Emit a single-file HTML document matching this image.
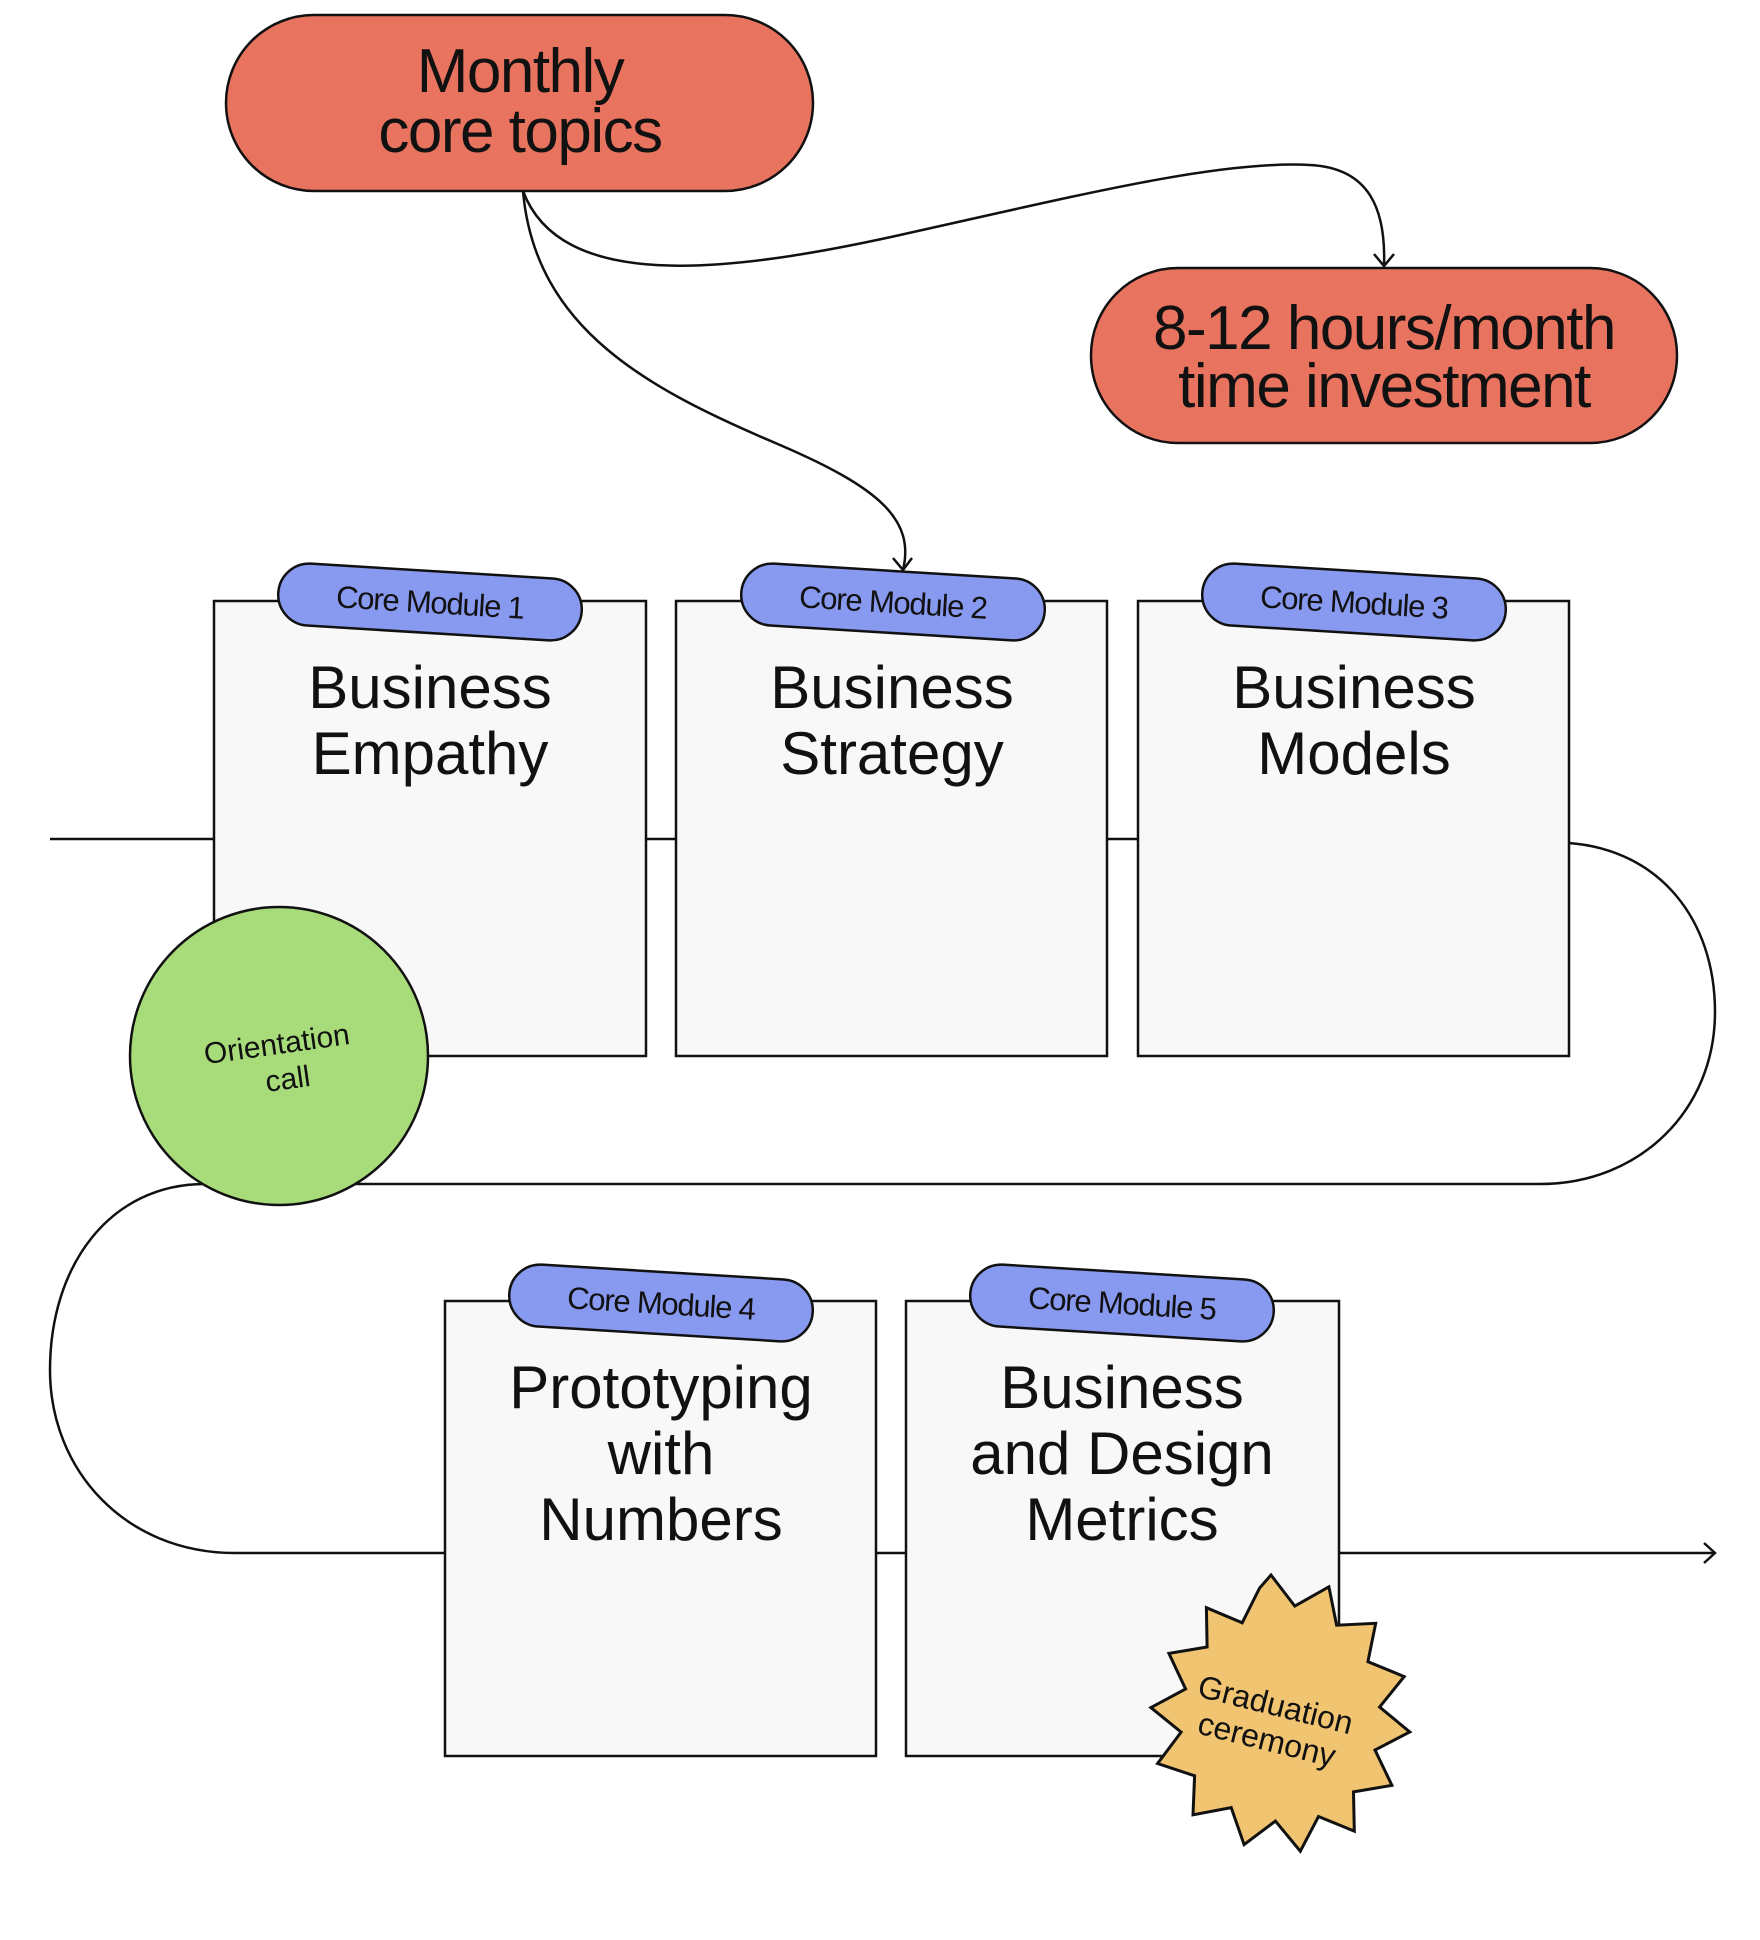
<!DOCTYPE html>
<html><head><meta charset="utf-8"><style>
html,body{margin:0;padding:0;background:#fff;}
svg{display:block;}
text{font-family:"Liberation Sans",sans-serif;fill:#111;}
</style></head><body>
<svg width="1760" height="1940" viewBox="0 0 1760 1940" xmlns="http://www.w3.org/2000/svg">
<g fill="none" stroke="#111" stroke-width="2.5">
<!-- main path -->
<path d="M50 839 H214 M646 839 H676 M1107 839 H1138"/>
<path d="M1569 843 C1660 850 1715 920 1715 1012 C1715 1110 1640 1184 1540 1184 H205 C110 1184 50 1265 50 1370 C50 1470 125 1553 235 1553 H445"/>
<path d="M876 1553 H906 M1339 1553 H1715"/>
<path d="M1704 1543 L1715 1553 L1704 1563"/>
<!-- curves from Monthly -->
<path d="M523 191 C535 330 650 390 780 445 C880 488 915 520 903 570"/>
<path d="M893 558 L903 570 L912 558"/>
<path d="M523 191 C560 290 720 275 900 235 C1080 195 1220 160 1310 165 C1370 168 1386 210 1384 266"/>
<path d="M1374 254 L1384 266 L1394 254"/>
</g>
<!-- pills -->
<rect x="226" y="15" width="587" height="176" rx="88" fill="#e8735f" stroke="#111" stroke-width="2.5"/>
<text x="520" y="92" font-size="62" text-anchor="middle" letter-spacing="-1.5">Monthly</text>
<text x="520" y="152" font-size="62" text-anchor="middle" letter-spacing="-1.5">core topics</text>
<rect x="1091" y="268" width="586" height="175" rx="87" fill="#e8735f" stroke="#111" stroke-width="2.5"/>
<text x="1384" y="349" font-size="62" text-anchor="middle" letter-spacing="-1.5">8-12 hours/month</text>
<text x="1384" y="407" font-size="62" text-anchor="middle" letter-spacing="-1.5">time investment</text>
<!-- boxes -->
<g fill="#f8f8f8" stroke="#111" stroke-width="2.5">
<rect x="214" y="601" width="432" height="455"/>
<rect x="676" y="601" width="431" height="455"/>
<rect x="1138" y="601" width="431" height="455"/>
<rect x="445" y="1301" width="431" height="455"/>
<rect x="906" y="1301" width="433" height="455"/>
</g>
<g font-size="60" text-anchor="middle">
<text x="430" y="708">Business</text><text x="430" y="774">Empathy</text>
<text x="892" y="708">Business</text><text x="892" y="774">Strategy</text>
<text x="1354" y="708">Business</text><text x="1354" y="774">Models</text>
<text x="661" y="1408">Prototyping</text><text x="661" y="1474">with</text><text x="661" y="1540">Numbers</text>
<text x="1122" y="1408">Business</text><text x="1122" y="1474">and Design</text><text x="1122" y="1540">Metrics</text>
</g>
<!-- tags -->
<g font-size="31" text-anchor="middle" letter-spacing="-1.2">
<g transform="translate(430,602) rotate(3.5)"><rect x="-152" y="-31" width="304" height="62" rx="31" fill="#8899f0" stroke="#111" stroke-width="2.5"/><text x="0" y="11">Core Module 1</text></g>
<g transform="translate(893,602) rotate(3.5)"><rect x="-152" y="-31" width="304" height="62" rx="31" fill="#8899f0" stroke="#111" stroke-width="2.5"/><text x="0" y="11">Core Module 2</text></g>
<g transform="translate(1354,602) rotate(3.5)"><rect x="-152" y="-31" width="304" height="62" rx="31" fill="#8899f0" stroke="#111" stroke-width="2.5"/><text x="0" y="11">Core Module 3</text></g>
<g transform="translate(661,1303) rotate(3.5)"><rect x="-152" y="-31" width="304" height="62" rx="31" fill="#8899f0" stroke="#111" stroke-width="2.5"/><text x="0" y="11">Core Module 4</text></g>
<g transform="translate(1122,1303) rotate(3.5)"><rect x="-152" y="-31" width="304" height="62" rx="31" fill="#8899f0" stroke="#111" stroke-width="2.5"/><text x="0" y="11">Core Module 5</text></g>
</g>
<!-- circle -->
<circle cx="279" cy="1056" r="149" fill="#a8dc7a" stroke="#111" stroke-width="2.5"/>
<g transform="translate(279,1060) rotate(-8)" font-size="30" text-anchor="middle">
<text x="0" y="-6">Orientation</text><text x="6" y="30">call</text></g>
<!-- star -->
<polygon id="star" fill="#f0c470" stroke="#111" stroke-width="3" points="
1271.0,1575.0 1294.8,1606.1 1328.9,1586.8 1336.6,1625.2 1375.7,1623.3 1367.9,1661.7 1404.2,1676.6 1379.6,1707.0 1409.8,1732.0 1375.0,1750.0 1391.9,1785.3 1353.5,1791.9 1354.3,1831.1 1318.5,1816.5 1300.3,1851.2 1275.4,1821.0 1244.1,1844.6 1231.2,1807.6 1193.0,1814.8 1194.6,1775.8 1157.6,1763.5 1181.1,1732.1 1150.9,1707.6 1185.6,1689.0 1168.9,1653.4 1207.1,1647.0 1206.4,1607.7 1242.2,1622.8 1259.5,1588.2"/>
<g transform="translate(1271,1723) rotate(14)" font-size="32" text-anchor="middle">
<text x="0" y="-8">Graduation</text><text x="0" y="28">ceremony</text></g>
</svg>
</body></html>
